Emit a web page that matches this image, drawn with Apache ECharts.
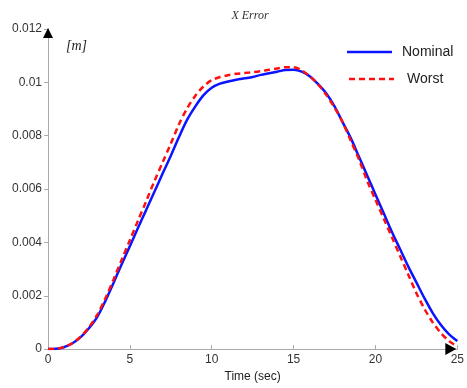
<!DOCTYPE html>
<html><head><meta charset="utf-8">
<script src="https://cdn.jsdelivr.net/npm/echarts@6/dist/echarts.min.js"></script>
<style>html,body{margin:0;padding:0;background:#fff}#c{width:467px;height:388px}</style>
</head><body><div id="c"></div>
<script>
var time = [0,0.5,1,1.5,2,2.5,3,3.5,4,4.5,5,5.5,6,6.5,7,7.5,8,8.5,9,9.5,10,10.5,11,11.5,12,12.5,13,13.5,14,14.5,15,15.5,16,16.5,17,17.5,18,18.5,19,19.5,20,20.5,21,21.5,22,22.5,23,23.5,24,24.5,25];
var nominal = [0,0.00001,0.00008,0.00022,0.00045,0.00078,0.00120,0.00180,0.00248,0.00318,0.00386,0.00455,0.00522,0.0059,0.00658,0.00725,0.00795,0.0086,0.0091,0.00952,0.0098,0.00995,0.01003,0.0101,0.01015,0.0102,0.01028,0.01034,0.0104,0.01046,0.01047,0.0104,0.01022,0.00993,0.00958,0.0091,0.0085,0.0079,0.0072,0.0065,0.0058,0.0051,0.0044,0.00375,0.0031,0.0025,0.0019,0.00135,0.0009,0.00055,0.0003];
var worst = [0,0.00001,0.00008,0.00023,0.00047,0.00082,0.00128,0.0019,0.0026,0.00335,0.00408,0.00482,0.00555,0.0063,0.007,0.0077,0.00843,0.00903,0.0095,0.00985,0.01008,0.0102,0.01027,0.01032,0.01035,0.01038,0.01042,0.01047,0.01052,0.01057,0.01057,0.01045,0.01022,0.00992,0.00953,0.00905,0.0085,0.0078,0.0071,0.0063,0.0056,0.0049,0.0042,0.0035,0.0028,0.0021,0.0015,0.001,0.0006,0.0003,0.0001];
var seriesNames = ['Nominal','Worst'];
var colors = ['#0a14ff', '#ff1010'];

function pairs(xs, ys){ return xs.map(function(x,i){return [x, ys[i]];}); }

var chart = echarts.init(document.getElementById('c'));
var axisColor = '#aaaaaa';
chart.setOption({
  animation: false,
  title: {
    text: 'X Error', left: 245, top: 5, textAlign: 'center',
    textStyle: {fontFamily: 'Liberation Serif', fontStyle: 'italic', fontWeight: 'normal', fontSize: 12, color: '#333'}
  },
  grid: {left: 48, right: 4, top: 29, bottom: 33, containLabel: false},
  xAxis: {
    type: 'value', min: 0, max: 25, interval: 5,
    name: 'Time (sec)', nameLocation: 'middle', nameGap: 19,
    nameTextStyle: {fontFamily: 'Liberation Sans', fontSize: 12, color: '#222'},
    axisLine: {lineStyle: {color: axisColor, width: 1}},
    axisTick: {inside: true, length: 4, lineStyle: {color: axisColor}},
    axisLabel: {fontFamily: 'Liberation Sans', fontSize: 12, color: '#333', margin: 5},
    splitLine: {show: false}
  },
  yAxis: {
    type: 'value', min: 0, max: 0.012, interval: 0.002,
    axisLine: {show: true, lineStyle: {color: axisColor, width: 1}},
    axisTick: {show: true, inside: false, length: 4, lineStyle: {color: axisColor}},
    axisLabel: {fontFamily: 'Liberation Sans', fontSize: 12, color: '#333', margin: 6},
    splitLine: {show: false}
  },
  series: [
    {name: seriesNames[0], type: 'line', data: pairs(time, nominal), smooth: 0.3, symbol: 'none',
     lineStyle: {color: colors[0], width: 2.5}, z: 2},
    {name: seriesNames[1], type: 'line', data: pairs(time, worst), smooth: 0.3, symbol: 'none',
     lineStyle: {color: colors[1], width: 2.5, type: [6, 4]}, z: 3}
  ]
});

var pO = chart.convertToPixel({gridIndex: 0}, [0, 0]);
var pTop = chart.convertToPixel({gridIndex: 0}, [0, 0.012]);
var pRight = chart.convertToPixel({gridIndex: 0}, [25, 0]);
chart.setOption({
  graphic: [
    {type: 'polygon', shape: {points: [[pTop[0]-5, pTop[1]+9], [pTop[0]+5, pTop[1]+9], [pTop[0], pTop[1]-1]]}, style: {fill: '#000'}, z: 10},
    {type: 'polygon', shape: {points: [[pRight[0]-12, pRight[1]-6], [pRight[0]-12, pRight[1]+6], [pRight[0]-1, pRight[1]]]}, style: {fill: '#000'}, z: 10},
    {type: 'text', x: pO[0] + 18, y: pTop[1] + 10, style: {text: '[m]', fontFamily: 'Liberation Serif', fontStyle: 'italic', fontSize: 14, fill: '#222'}},
    {type: 'line', shape: {x1: 347, y1: 52, x2: 392, y2: 52}, style: {stroke: colors[0], lineWidth: 2.5}},
    {type: 'text', x: 402, y: 52, style: {text: seriesNames[0], fontFamily: 'Liberation Sans', fontSize: 14, fill: '#222', verticalAlign: 'middle'}},
    {type: 'line', shape: {x1: 349, y1: 79, x2: 394, y2: 79}, style: {stroke: colors[1], lineWidth: 2.5, lineDash: [6, 4]}},
    {type: 'text', x: 407, y: 79, style: {text: seriesNames[1], fontFamily: 'Liberation Sans', fontSize: 14, fill: '#222', verticalAlign: 'middle'}}
  ]
});
</script></body></html>
